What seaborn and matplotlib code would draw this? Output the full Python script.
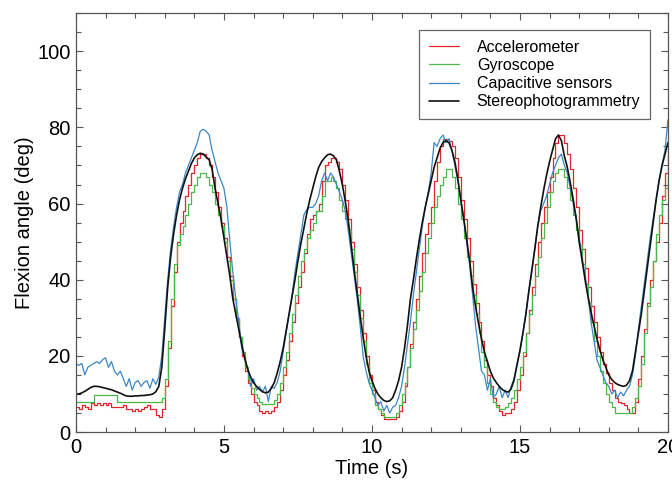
import numpy as np
import pandas as pd
import matplotlib
matplotlib.use("Agg")
import matplotlib.pyplot as plt
import seaborn as sns
from matplotlib.ticker import MultipleLocator

# sampling instants (s), one every 0.1 s
time_s = np.round(np.arange(0, 201) * 0.1, 1)

accelerometer = [
    6.5, 6, 7, 6.5, 6, 7.5, 7, 7.5, 7, 7.5,
    7, 7.5, 6.5, 6.5, 6.5, 6.5, 7, 6, 6, 5.5,
    6, 5.5, 6, 6.5, 7, 6, 6, 4.5, 4, 6,
    12, 22, 33, 42, 50, 55, 58, 62, 65, 68,
    70, 72, 73, 73, 72, 70, 67, 63, 59, 55,
    51, 46, 41, 35, 30, 25, 20, 16, 13, 10,
    8, 7, 5.5, 5, 5.5, 5, 5.5, 6.5, 8, 11,
    15, 19, 24, 29, 34, 38, 42, 47, 52, 56,
    57, 58, 60, 66, 70, 71, 72, 72, 71, 69,
    65, 61, 56, 50, 44, 38, 32, 26, 20, 15,
    11, 8, 6, 4.5, 3.5, 3.5, 3.5, 3.5, 4, 5.5,
    8, 12, 17, 23, 29, 35, 41, 47, 52, 55,
    59, 66, 71, 75, 77, 77, 76.5, 75, 72, 67,
    61, 56, 51, 45, 39, 34, 29, 24, 19, 15,
    12, 9, 7, 5.5, 4.5, 5, 5, 6, 8, 11,
    15, 20, 26, 32, 38, 44, 50, 55, 59, 63,
    67, 72, 76, 78, 78, 76, 73, 69, 64, 59,
    53, 48, 43, 38, 33, 29, 25, 21, 18, 15.5,
    13, 11, 9, 8, 7.5, 7, 6, 5, 5, 8,
    14, 20, 27, 34, 40, 45, 50, 55, 62, 68,
    74,
]

gyroscope = [
    8, 8, 8, 8, 8, 8, 9.7, 9.7, 9.7, 9.7,
    9.7, 9.7, 9.7, 9.7, 8, 8, 8, 8, 8, 8,
    8, 8, 8, 8, 8, 8, 8, 8, 8, 9,
    14, 24, 35, 44, 49, 52, 54, 57, 60, 63,
    65, 67, 68, 68, 67, 65, 63, 60, 57, 54,
    50, 45, 40, 35, 30, 25, 21, 17, 14, 11.5,
    10, 9, 8, 7.3, 7.3, 7.3, 7.3, 8.5, 10, 13,
    17, 21, 26, 31, 36, 41, 45, 48, 51, 53,
    55, 58, 58, 62, 66, 66, 67, 66, 64, 61,
    58, 56, 53, 48, 42, 36, 30, 24, 18, 13,
    10, 7, 6, 5, 4, 4, 4, 4, 5, 7,
    10, 13, 17, 22, 27, 32, 37, 42, 47, 51,
    55, 59, 62, 65, 67, 69, 69, 67, 64, 60,
    56, 51, 46, 41, 36, 31, 26, 21, 17, 13,
    10, 8, 6.5, 6, 6, 6.5, 7.5, 9, 11, 14,
    17, 21, 26, 31, 36, 41, 46, 51, 55, 59,
    63, 66, 68, 69, 69, 67, 64, 61, 57, 53,
    49, 44, 39, 34, 29, 24, 20, 16, 13, 10,
    8, 6.5, 5, 5, 5, 5, 5, 5, 6.5, 9,
    12, 18, 26, 33, 38, 45, 52, 57, 61, 64,
    67,
]

capacitive = [
    18, 17.5, 18, 15, 17, 17.5, 18, 18.5, 18, 19,
    19.5, 17, 18.5, 16, 15, 16, 14, 12, 14, 11,
    13, 13.5, 12, 13, 13.5, 11.5, 14, 12.5, 14.5, 20,
    30, 40, 48, 54, 59, 63, 65, 68, 70, 72,
    74, 76, 79, 79.5, 79, 78, 74, 71, 68, 66,
    64, 59, 50, 42, 35, 29, 22, 19, 17, 12,
    14, 11, 12, 10.5, 12, 8, 12, 11.5, 13, 16,
    21, 26, 31, 36, 42, 47, 52, 57, 58.5, 59,
    59, 60, 62, 66, 68, 66, 68, 67, 65, 63,
    61, 58, 53, 47, 41, 35, 28, 20, 16, 13,
    11, 9, 7, 8, 5.5, 7, 5, 6.5, 7, 9,
    12, 17, 23, 29, 36, 42, 48, 54, 59, 63,
    68, 76, 75, 77, 78, 76, 77, 74, 70, 66,
    61, 56, 50, 44, 36, 28, 22, 16, 15, 11,
    14, 9, 10, 12, 9, 11, 9, 12, 14, 18,
    21, 26, 31, 37, 42, 48, 54, 58, 60, 62,
    65, 68, 70, 72, 73, 70, 68, 64, 60, 56,
    51, 46, 41, 36, 29, 24, 19, 17, 15, 13,
    12, 10, 11, 9, 10.5, 9.5, 11, 12, 15, 20,
    27, 33, 39, 45, 51, 56, 61, 66, 70, 74,
    82,
]

stereo = [
    10, 10, 10.3, 10.7, 11.2, 11.7, 12, 12, 11.9, 11.7,
    11.5, 11.3, 11.1, 10.8, 10.5, 10.2, 9.8, 9.5, 9.4, 9.4,
    9.5, 9.5, 9.6, 9.6, 9.7, 9.8, 10, 10.6, 12, 17,
    27, 38, 46, 52, 57, 61, 64, 66.5, 68.5, 70.5,
    72, 72.8, 73.2, 73, 72.2, 71.5, 69, 64, 60, 56,
    51, 46, 41, 35, 31, 27, 23, 19.5, 16.5, 14.5,
    13, 12, 11.2, 10.6, 10.3, 10.5, 11.5, 13, 15.5, 18.5,
    22, 26.5, 31, 35.5, 40, 45, 49.5, 53.5, 57.5, 61,
    64, 67, 69.5, 71, 72, 72.8, 73, 72.5, 71.5, 68.5,
    65, 60.5, 55.5, 49, 42.5, 36.5, 30.5, 25, 20, 16,
    13.5, 11.5, 10, 9, 8.3, 8, 8.2, 9, 11, 13.5,
    17, 22, 28, 35, 40, 45.5, 50.5, 55, 59, 62.5,
    66, 69.5, 72, 74.5, 76, 76.5, 76, 74, 71, 66.5,
    61, 56, 50.5, 45, 38, 33, 28.5, 24.5, 21, 18.5,
    16, 14.2, 13, 12, 11.2, 10.7, 10.5, 11.3, 13.6, 17.5,
    21.5, 26, 31, 37, 42.5, 48, 54, 59, 63.5, 67.5,
    71, 74, 77, 78, 76.5, 72.5, 69.5, 65.5, 61, 56,
    50, 45, 40, 35.5, 31.5, 28, 24.5, 21.5, 19, 17,
    15, 13.8, 13, 12.5, 12.2, 12, 12.3, 13.5, 16, 21,
    26, 31, 37, 43, 49, 55, 61, 66, 70, 73,
    76,
]

series_names = ["Accelerometer", "Gyroscope", "Capacitive sensors", "Stereophotogrammetry"]
series_values = [accelerometer, gyroscope, capacitive, stereo]
series_colors = ["#e3262b", "#4cb84a", "#3b87c6", "#111111"]
series_steps = ["steps-post", "steps-post", "default", "default"]
series_widths = [0.9, 0.9, 0.9, 1.2]

sns.set_style("ticks")
plt.rcParams["font.family"] = ["Liberation Sans", "DejaVu Sans"]

fig = plt.figure(figsize=(6.72, 4.86), dpi=100)
ax = fig.add_axes([0.113, 0.111, 0.881, 0.862])

for name, vals, col, ds, w in zip(series_names, series_values, series_colors,
                                  series_steps, series_widths):
    df = pd.DataFrame({"t": time_s, "v": vals})
    sns.lineplot(data=df, x="t", y="v", ax=ax, color=col, lw=w,
                 drawstyle=ds, label=name, estimator=None)

ax.set_xlim(0, 20)
ax.set_ylim(0, 110)
ax.xaxis.set_major_locator(MultipleLocator(5))
ax.xaxis.set_minor_locator(MultipleLocator(1))
ax.yaxis.set_major_locator(MultipleLocator(20))
ax.yaxis.set_minor_locator(MultipleLocator(5))
ax.tick_params(which="both", direction="in", top=True, right=True,
               color="#555555", labelcolor="black", labelsize=14.5, pad=4)
ax.tick_params(which="major", length=5, width=0.8)
ax.tick_params(which="minor", length=3.5, width=0.8)
for sp in ax.spines.values():
    sp.set_color("#555555")
    sp.set_linewidth(0.9)

ax.set_xlabel("Time (s)", fontsize=14.5, labelpad=2, color="black")
ax.set_ylabel("Flexion angle (deg)", fontsize=14.5, labelpad=2, color="black")

leg = ax.legend(loc="upper right", bbox_to_anchor=(0.9696, 0.9594), borderaxespad=0,
                fontsize=11.5, frameon=True, fancybox=False, framealpha=1,
                handlelength=1.9, handletextpad=1.1, labelspacing=0.2,
                borderpad=0.6)
leg.get_frame().set_edgecolor("#666666")
leg.get_frame().set_linewidth(0.9)
for txt in leg.get_texts():
    txt.set_color("black")

fig.savefig("out.png", dpi=100, facecolor="white")
